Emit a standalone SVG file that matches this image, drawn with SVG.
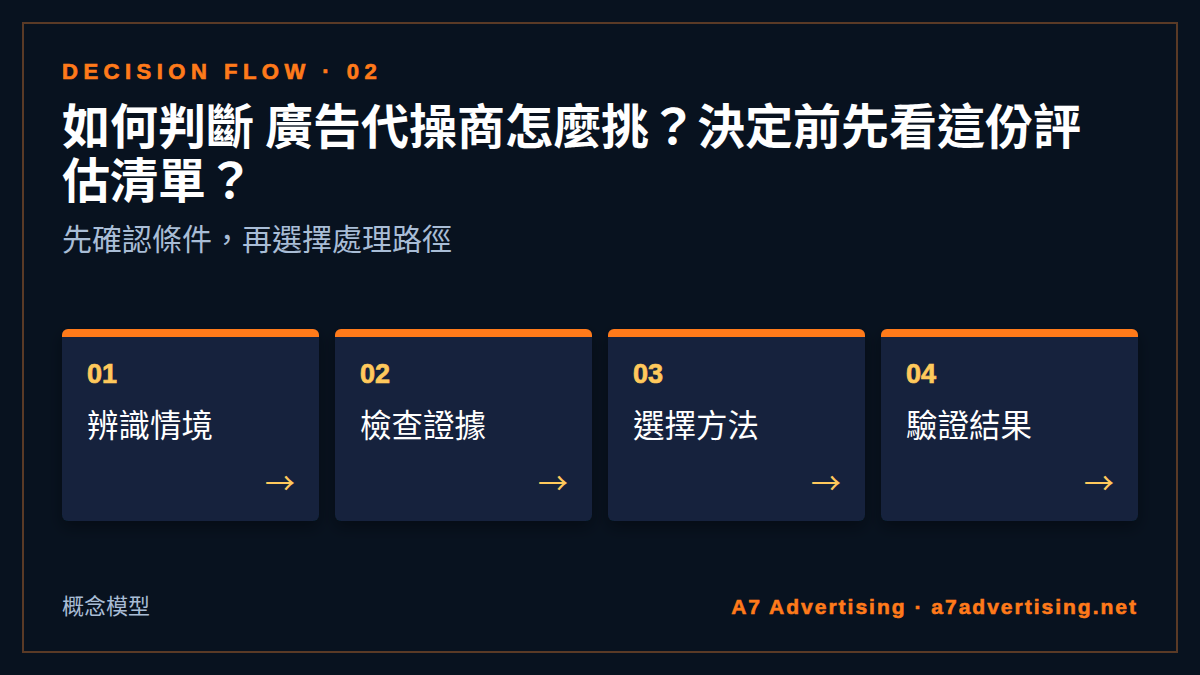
<svg xmlns="http://www.w3.org/2000/svg" width="1200" height="675" viewBox="0 0 1200 675">
<defs>
<style>
.kicker{font-family:"Liberation Sans",Arial,sans-serif;font-weight:700;font-size:22px;letter-spacing:5.5px;fill:#ff7a1a;stroke:#ff7a1a;stroke-width:0.7px}
.title{font-family:"Noto Sans CJK TC","Noto Sans CJK SC",sans-serif;font-weight:700;font-size:48px;fill:#ffffff}
.sub{font-family:"Noto Sans CJK TC","Noto Sans CJK SC",sans-serif;font-size:30px;fill:#a9bdd6}
.card{fill:#13243c}
.bar{fill:#ff7a1a}
.num{font-family:"Liberation Sans",Arial,sans-serif;font-weight:700;font-size:27px;fill:#ffc95c;stroke:#ffc95c;stroke-width:0.7px}
.lbl{font-family:"Noto Sans CJK TC","Noto Sans CJK SC",sans-serif;font-size:31.5px;fill:#ffffff}
.arr{font-family:"Noto Sans CJK TC","Noto Sans CJK SC",sans-serif;font-size:30px;fill:#ffc95c}
.foot{font-family:"Noto Sans CJK TC","Noto Sans CJK SC",sans-serif;font-size:22px;fill:#a9bdd6}
.brand{font-family:"Liberation Sans",Arial,sans-serif;font-weight:700;font-size:21px;letter-spacing:2px;fill:#ff7a1a;stroke:#ff7a1a;stroke-width:0.6px}
</style>
<clipPath id="c1"><rect x="62" y="329" width="257" height="192" rx="6"/></clipPath>
<clipPath id="c2"><rect x="335" y="329" width="257" height="192" rx="6"/></clipPath>
<clipPath id="c3"><rect x="608" y="329" width="257" height="192" rx="6"/></clipPath>
<clipPath id="c4"><rect x="881" y="329" width="257" height="192" rx="6"/></clipPath>
<filter id="sh" x="-20%" y="-20%" width="140%" height="150%"><feDropShadow dx="0" dy="6" stdDeviation="8" flood-color="#000000" flood-opacity="0.35"/></filter>
</defs>
<rect width="1200" height="675" fill="#08121f"/>
<rect x="23" y="23" width="1154" height="629" fill="none" stroke="#5a3a26" stroke-width="2"/>
<g id="header">
<text class="kicker" x="62" y="79">DECISION FLOW · 02</text>
<text class="title" x="62" y="144">如何判斷 廣告代操商怎麼挑？決定前先看這份評</text>
<text class="title" x="62" y="198">估清單？</text>
<text class="sub" x="62" y="250">先確認條件，再選擇處理路徑</text>
</g>
<g id="connectors"></g>
<g id="step1">
<rect class="card" x="62" y="329" width="257" height="192" rx="6" filter="url(#sh)"/>
<rect class="bar" x="62" y="329" width="257" height="8" clip-path="url(#c1)"/>
<text class="num" x="87" y="383">01</text>
<text class="lbl" x="87" y="437">辨識情境</text>
<text class="arr" x="295" y="494" text-anchor="end">→</text>
</g>
<g id="step2">
<rect class="card" x="335" y="329" width="257" height="192" rx="6" filter="url(#sh)"/>
<rect class="bar" x="335" y="329" width="257" height="8" clip-path="url(#c2)"/>
<text class="num" x="360" y="383">02</text>
<text class="lbl" x="360" y="437">檢查證據</text>
<text class="arr" x="568" y="494" text-anchor="end">→</text>
</g>
<g id="step3">
<rect class="card" x="608" y="329" width="257" height="192" rx="6" filter="url(#sh)"/>
<rect class="bar" x="608" y="329" width="257" height="8" clip-path="url(#c3)"/>
<text class="num" x="633" y="383">03</text>
<text class="lbl" x="633" y="437">選擇方法</text>
<text class="arr" x="841" y="494" text-anchor="end">→</text>
</g>
<g id="step4">
<rect class="card" x="881" y="329" width="257" height="192" rx="6" filter="url(#sh)"/>
<rect class="bar" x="881" y="329" width="257" height="8" clip-path="url(#c4)"/>
<text class="num" x="906" y="383">04</text>
<text class="lbl" x="906" y="437">驗證結果</text>
<text class="arr" x="1114" y="494" text-anchor="end">→</text>
</g>
<g id="footer">
<text class="foot" x="62" y="614">概念模型</text>
<text class="brand" x="1138" y="614" text-anchor="end">A7 Advertising · a7advertising.net</text>
</g>
</svg>
